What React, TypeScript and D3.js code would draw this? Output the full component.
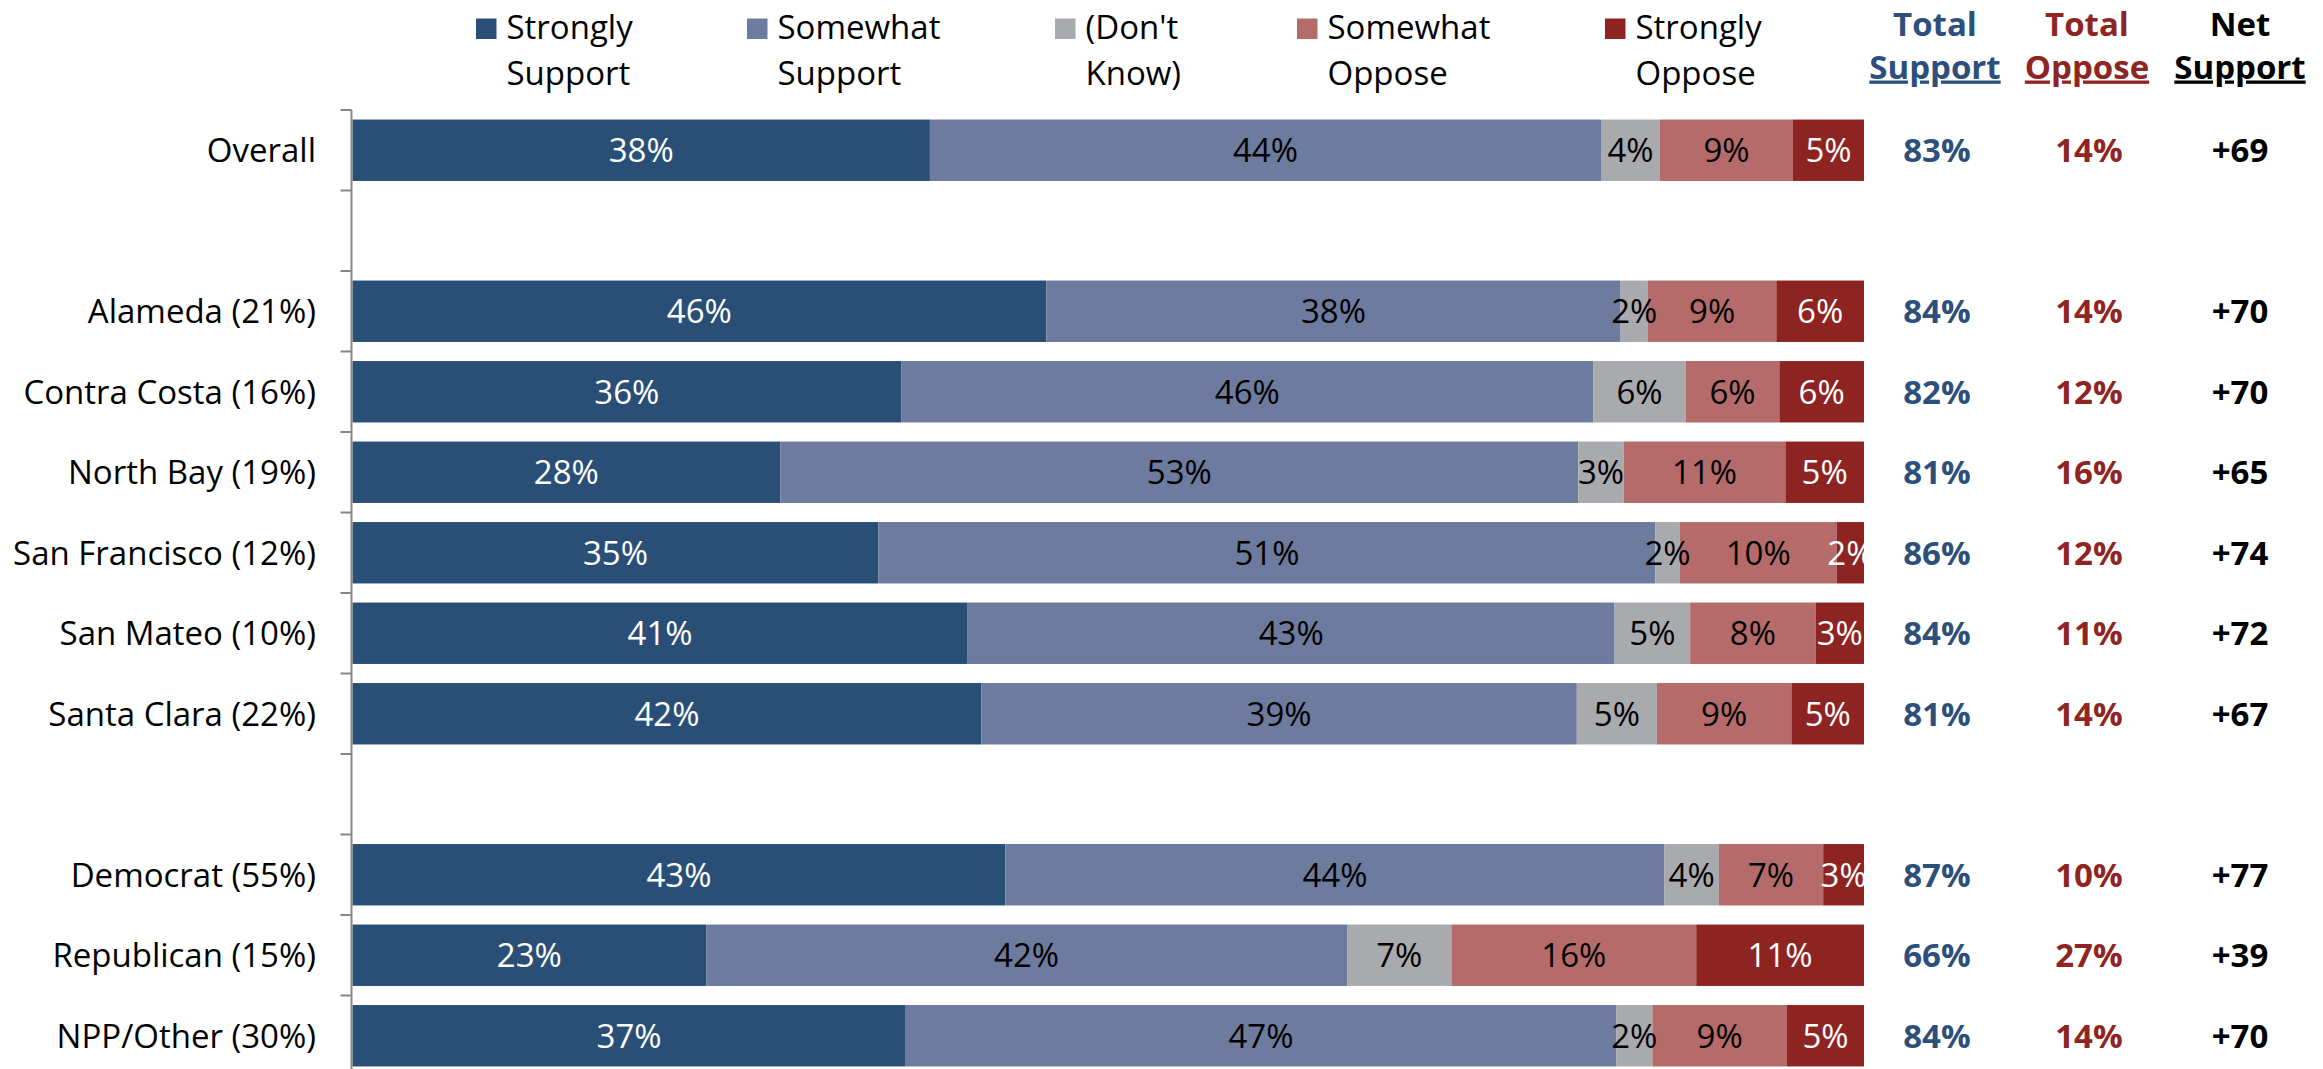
import React from "react";
import * as d3 from "d3";

const categories = [
  "Overall",
  "",
  "Alameda (21%)",
  "Contra Costa (16%)",
  "North Bay (19%)",
  "San Francisco (12%)",
  "San Mateo (10%)",
  "Santa Clara (22%)",
  " ",
  "Democrat (55%)",
  "Republican (15%)",
  "NPP/Other (30%)",
];

const seriesNames = ["Strongly Support", "Somewhat Support", "(Don't Know)", "Somewhat Oppose", "Strongly Oppose"];
const legendLines = [
  ["Strongly", "Support"],
  ["Somewhat", "Support"],
  ["(Don't", "Know)"],
  ["Somewhat", "Oppose"],
  ["Strongly", "Oppose"],
];

// Values (labels show them rounded)
const stronglySupport = [38.2, null, 45.9, 36.3, 28.3, 34.8, 40.7, 41.6, null, 43.2, 23.4, 36.6];
const somewhatSupport = [44.4, null, 38.0, 45.8, 52.8, 51.4, 42.8, 39.4, null, 43.6, 42.4, 47.0];
const dontKnow = [3.9, null, 1.8, 6.1, 3.0, 1.6, 5.0, 5.3, null, 3.6, 6.9, 2.4];
const somewhatOppose = [8.8, null, 8.5, 6.2, 10.7, 10.4, 8.3, 8.9, null, 6.9, 16.2, 8.9];
const stronglyOppose = [4.7, null, 5.8, 5.6, 5.2, 1.8, 3.2, 4.8, null, 2.7, 11.1, 5.1];

const totalSupport = [83, null, 84, 82, 81, 86, 84, 81, null, 87, 66, 84];
const totalOppose = [14, null, 14, 12, 16, 12, 11, 14, null, 10, 27, 14];
const netSupport = [69, null, 70, 70, 65, 74, 72, 67, null, 77, 39, 70];

const colors = ["#2A4F77", "#6D7B9E", "#A9AAAE", "#B46B69", "#8E2422"];
const labelColors = ["#FFFFFF", "#000000", "#000000", "#000000", "#FFFFFF"];
const supportColor = "#2C4F7C";
const opposeColor = "#8F2522";

const FONT = "'Open Sans', 'Noto Sans', sans-serif";
const FS = 33;

export default function App() {
  const W = 2323;
  const H = 1069;
  const values = [stronglySupport, somewhatSupport, dontKnow, somewhatOppose, stronglyOppose];

  const top = 110;
  const step = 80.5;
  const y = d3
    .scaleBand<string>()
    .domain(categories)
    .range([top, top + step * categories.length])
    .paddingInner(0.237)
    .paddingOuter(0.1185);

  const x = d3.scaleLinear().domain([0, 1]).range([352.5, 1864]);
  const axisX = 351.5;

  const rows = categories.map((cat, i) => {
    const vals = values.map((s) => s[i]);
    if (vals[0] == null) return null;
    const total = d3.sum(vals as number[]);
    let acc = 0;
    const segs = vals.map((v, k) => {
      const x0 = acc / total;
      acc += v as number;
      const x1 = acc / total;
      return { k, v: v as number, x0, x1 };
    });
    return { cat, i, segs };
  });

  const boundaries = d3.range(categories.length + 1).map((i) => y.range()[0] + i * y.step());

  const colSupport = 1937;
  const colOppose = 2089;
  const colNet = 2240;

  const legendX = [476, 747, 1055, 1297, 1605];

  return (
    <div>
      <style>{`body{margin:0;}`}</style>
      <svg width={W} height={H} style={{ display: "block", fontFamily: FONT }}>
        <defs>
          <clipPath id="plotClip">
            <rect x={x(0)} y={0} width={x(1) - x(0)} height={H} />
          </clipPath>
        </defs>
        <rect width={W} height={H} fill="#fff" />

        {/* Legend */}
        {seriesNames.map((name, k) => (
          <g key={name}>
            <rect x={legendX[k]} y={18.5} width={20.5} height={20.5} fill={colors[k]} />
            <text x={legendX[k] + 30.5} y={38.5} fontSize={FS} fill="#000">
              {legendLines[k][0]}
            </text>
            <text x={legendX[k] + 30.5} y={84.5} fontSize={FS} fill="#000">
              {legendLines[k][1]}
            </text>
          </g>
        ))}

        {/* Column headers */}
        {[
          { x: colSupport - 2, c: supportColor, l: ["Total", "Support"] },
          { x: colOppose - 2, c: opposeColor, l: ["Total", "Oppose"] },
          { x: colNet, c: "#000", l: ["Net", "Support"] },
        ].map((h) => (
          <g key={h.l.join()} fill={h.c} fontWeight="bold" fontSize={FS} textAnchor="middle">
            <text x={h.x} y={35.5}>
              {h.l[0]}
            </text>
            <text x={h.x} y={78.5} textDecoration="underline">
              {h.l[1]}
            </text>
          </g>
        ))}

        {/* Bars */}
        {rows.map((r) =>
          r ? (
            <g key={r.cat}>
              {r.segs.map((s) => (
                <rect
                  key={s.k}
                  x={x(s.x0)}
                  y={y(r.cat)}
                  width={x(s.x1) - x(s.x0)}
                  height={y.bandwidth()}
                  fill={colors[s.k]}
                />
              ))}
            </g>
          ) : null
        )}

        {/* Bar labels */}
        <g clipPath="url(#plotClip)">
          {rows.map((r) =>
            r ? (
              <g key={r.cat}>
                {r.segs.map((s) => (
                  <text
                    key={s.k}
                    x={x((s.x0 + s.x1) / 2)}
                    y={(y(r.cat) as number) + y.bandwidth() / 2}
                    dy="0.36em"
                    textAnchor="middle"
                    fontSize={FS}
                    fill={labelColors[s.k]}
                  >
                    {Math.round(s.v)}%
                  </text>
                ))}
              </g>
            ) : null
          )}
        </g>

        {/* Axis */}
        <line x1={axisX} x2={axisX} y1={boundaries[0]} y2={boundaries[boundaries.length - 1]} stroke="#868686" strokeWidth={2} />
        {boundaries.map((b, i) => (
          <line key={i} x1={axisX - 11} x2={axisX} y1={b} y2={b} stroke="#868686" strokeWidth={2} />
        ))}
        {categories.map((c) =>
          c.trim() ? (
            <text
              key={c}
              x={316}
              y={(y(c) as number) + y.bandwidth() / 2}
              dy="0.36em"
              textAnchor="end"
              fontSize={FS}
              fill="#000"
            >
              {c}
            </text>
          ) : null
        )}

        {/* Totals */}
        {categories.map((c, i) =>
          totalSupport[i] != null ? (
            <g key={c} fontWeight="bold" fontSize={FS} textAnchor="middle">
              <text x={colSupport} y={(y(c) as number) + y.bandwidth() / 2} dy="0.36em" fill={supportColor}>
                {totalSupport[i]}%
              </text>
              <text x={colOppose} y={(y(c) as number) + y.bandwidth() / 2} dy="0.36em" fill={opposeColor}>
                {totalOppose[i]}%
              </text>
              <text x={colNet} y={(y(c) as number) + y.bandwidth() / 2} dy="0.36em" fill="#000">
                {(netSupport[i] as number) > 0 ? "+" : ""}
                {netSupport[i]}
              </text>
            </g>
          ) : null
        )}
      </svg>
    </div>
  );
}
